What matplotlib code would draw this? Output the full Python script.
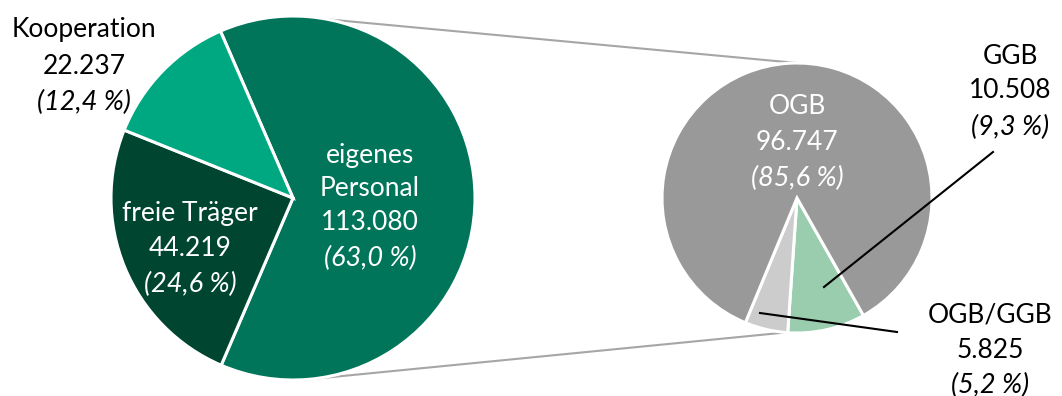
import numpy as np
import matplotlib
matplotlib.use("Agg")
import matplotlib.pyplot as plt

plt.rcParams['font.family'] = ['Lato', 'DejaVu Sans']

# Data
main_labels = ["eigenes Personal", "freie Träger", "Kooperation"]
main_values = [113080, 44219, 22237]
main_colors = ["#00755A", "#00452F", "#00A882"]

sub_labels = ["GGB", "OGB/GGB", "OGB"]
sub_values = [10508, 5825, 96747]
sub_colors = ["#99CDAE", "#CCCCCC", "#999999"]

W, H = 1062, 396
fig = plt.figure(figsize=(W / 100, H / 100), dpi=100)
ax = fig.add_axes([0, 0, 1, 1])

def Y(y):
    return H - y

L_c = (293, Y(198)); L_r = 182
R_c = (797, Y(198)); R_r = 135

ax.pie(main_values, colors=main_colors, startangle=113.5, counterclock=False,
       center=L_c, radius=L_r, wedgeprops=dict(edgecolor="white", linewidth=2.2))
ax.pie(sub_values, colors=sub_colors, startangle=-60.5, counterclock=False,
       center=R_c, radius=R_r, wedgeprops=dict(edgecolor="white", linewidth=2.2))

# connector lines
def pt(c, r, ang):
    a = np.deg2rad(ang)
    return c[0] + r * np.cos(a), c[1] + r * np.sin(a)

p1 = pt(L_c, L_r, 79); q1 = pt(R_c, R_r, 90)
p2 = pt(L_c, L_r, -85); q2 = pt(R_c, R_r, -95)
ax.plot([p1[0], q1[0]], [p1[1], q1[1]], color="#A6A6A6", lw=1.5, zorder=0)
ax.plot([p2[0], q2[0]], [p2[1], q2[1]], color="#A6A6A6", lw=1.5, zorder=0)

def fmt_num(v):
    return f"{v:,}".replace(",", ".")

def fmt_pct(v, tot):
    return "(" + f"{100 * v / tot:.1f}".replace(".", ",") + " %)"

FS = 19

def label(x, ys, name_lines, value, total, color):
    lines = name_lines + [fmt_num(value)]
    for i, s in enumerate(lines):
        ax.text(x, Y(ys[i]), s, ha="center", va="center", fontsize=FS, color=color)
    ax.text(x, Y(ys[len(lines)]), fmt_pct(value, total), ha="center", va="center",
            fontsize=FS + 0.5, color=color, style="italic")

mt = sum(main_values); st = sum(sub_values)
label(370, [155, 189, 223, 258], ["eigenes", "Personal"], main_values[0], mt, "white")
label(190, [214, 249, 284], ["freie Träger"], main_values[1], mt, "white")
label(84, [30, 66, 102], ["Kooperation"], main_values[2], mt, "black")
label(797, [106, 142, 178], ["OGB"], sub_values[2], st, "white")
label(1010, [56, 91, 127], ["GGB"], sub_values[0], st, "black")
label(990, [315, 350, 385], ["OGB/GGB"], sub_values[1], st, "black")

# leader lines
ax.plot([824, 993], [Y(287), Y(152)], color="black", lw=1.5)
ax.plot([760, 897], [Y(313), Y(332)], color="black", lw=1.5)

ax.set_xlim(0, W)
ax.set_ylim(0, H)
ax.set_aspect("equal")
ax.axis("off")

fig.savefig("out.png", dpi=100)
